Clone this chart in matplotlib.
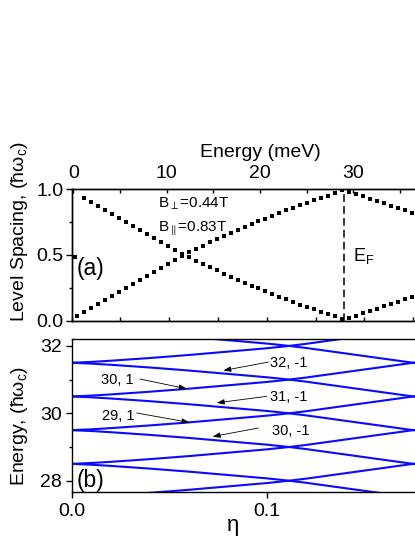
import numpy as np
import matplotlib
matplotlib.use("Agg")
import matplotlib.pyplot as plt
from matplotlib.ticker import MultipleLocator

plt.rcParams['font.family'] = ['Liberation Sans', 'DejaVu Sans']
plt.rcParams['mathtext.fontset'] = 'custom'
plt.rcParams['mathtext.rm'] = 'Liberation Sans'
plt.rcParams['mathtext.it'] = 'Liberation Sans:italic'
plt.rcParams['mathtext.bf'] = 'Liberation Sans:bold'

# ---- painel (a): espacamento entre niveis vs energia (pontos) ----
energia = [0.42, 1.17, 1.91, 2.66, 3.41, 4.16, 4.90, 5.65, 6.40, 7.14,
           7.89, 8.64, 9.38, 10.13, 10.88, 11.63, 12.37, 13.12, 13.87, 14.61,
           15.36, 16.11, 16.85, 17.60, 18.35, 19.10, 19.84, 20.59, 21.34, 22.08,
           22.83, 23.58, 24.32, 25.07, 25.82, 26.57, 27.31, 28.06, 28.81, 29.55,
           30.30, 31.05, 31.79, 32.54, 33.29, 34.04, 34.78, 35.53, 36.28]
ramo_sobe = [0.035, 0.066, 0.096, 0.127, 0.157, 0.188, 0.218, 0.249, 0.279, 0.310,
             0.340, 0.371, 0.401, 0.432, 0.462, 0.492, 0.518, 0.544, 0.569, 0.594,
             0.618, 0.642, 0.665, 0.688, 0.711, 0.733, 0.755, 0.776, 0.797, 0.818,
             0.838, 0.858, 0.877, 0.896, 0.914, 0.932, 0.949, 0.966, 0.990, 0.980,
             0.963, 0.945, 0.927, 0.909, 0.891, 0.873, 0.855, 0.837, 0.820]
ramo_desce = [0.934, 0.904, 0.873, 0.843, 0.812, 0.782, 0.751, 0.721, 0.690, 0.660,
              0.629, 0.599, 0.568, 0.538, 0.508, 0.482, 0.456, 0.431, 0.406, 0.382,
              0.358, 0.335, 0.312, 0.289, 0.267, 0.245, 0.224, 0.203, 0.182, 0.162,
              0.142, 0.123, 0.104, 0.086, 0.068, 0.051, 0.034, 0.012, 0.022, 0.038,
              0.055, 0.073, 0.091, 0.109, 0.127, 0.145, 0.163, 0.180]
ponto_extra_E = [0.2]
ponto_extra_v = [0.48]
E_fermi = 29.05

# ---- painel (b): niveis vs eta ----
eta = [0.00, 0.01, 0.02, 0.03, 0.04, 0.05, 0.06, 0.07, 0.08, 0.09,
       0.10, 0.11, 0.12, 0.13, 0.14, 0.15, 0.16, 0.17, 0.18, 0.19]
desvio = [0.0, 0.025, 0.06, 0.10, 0.14, 0.185, 0.23, 0.28, 0.33, 0.38,
          0.43, 0.49, 0.56, 0.64, 0.72, 0.80, 0.88, 0.96, 1.04, 1.12]
centros = [27.5, 28.5, 29.5, 30.5, 31.5, 32.5]

# rotulos: texto, posicao do texto, cauda e ponta da seta (coords de dados)
rotulos = [
    ("30, 1",  (0.0150, 30.996), (0.0351, 31.016), (0.0590, 30.73)),
    ("29, 1",  (0.0158, 29.910), (0.0334, 30.009), (0.0604, 29.73)),
    ("32, -1", (0.1017, 31.490), (0.1008, 31.520), (0.0778, 31.27)),
    ("31, -1", (0.1017, 30.474), (0.1000, 30.504), (0.0744, 30.31)),
    ("30, -1", (0.1026, 29.467), (0.0957, 29.564), (0.0723, 29.31)),
]

W, H = 415, 537
fig = plt.figure(figsize=(W / 100, H / 100), dpi=100)

def px(x, y):
    return x / W, 1 - y / H

esq, dir_ = 71.5, 440.0
ax_a = fig.add_axes([esq / W, 1 - 320.7 / H, (dir_ - esq) / W, (320.7 - 189) / H])
ax_b = fig.add_axes([esq / W, 1 - 491.7 / H, (dir_ - esq) / W, (491.7 - 339.3) / H])

eta_max = (dir_ - esq) / 1952
E_min = (esq - 73.3) / 9.33
E_max = (dir_ - 73.3) / 9.33

fs = 14
# painel (a)
ax_a.plot(energia, ramo_sobe, 's', color='black', ms=2.3, mew=0)
ax_a.plot(energia[1:], ramo_desce, 's', color='black', ms=2.3, mew=0)
ax_a.plot(ponto_extra_E, ponto_extra_v, 's', color='black', ms=2.3, mew=0, clip_on=False)
ax_a.plot([E_fermi, E_fermi], [0, 1], color='black', lw=1.1, dashes=(5, 2.8))
ax_a.set_xlim(E_min, E_max)
ax_a.set_ylim(0, 1.0)

# eixo de eta (so marcas) na base do painel (a)
ax_a2 = ax_a.twiny()
ax_a2.set_xlim(0, eta_max)
ax_a2.xaxis.set_ticks_position('bottom')
ax_a2.xaxis.set_major_locator(MultipleLocator(0.025))
ax_a2.tick_params(axis='x', direction='in', length=3, width=1, labelbottom=False,
                  labeltop=False)

ax_a.xaxis.tick_top()
ax_a.xaxis.set_major_locator(MultipleLocator(10))
ax_a.xaxis.set_minor_locator(MultipleLocator(5))
ax_a.set_yticks([0, 0.5, 1.0])
ax_a.set_yticklabels(['0.0', '0.5', '1.0'])
ax_a.yaxis.set_minor_locator(MultipleLocator(0.25))
ax_a.tick_params(axis='x', which='both', direction='in', length=3, width=1,
                 labelsize=fs, pad=5, top=True, bottom=False,
                 labeltop=True, labelbottom=False)
ax_a.tick_params(axis='y', which='major', direction='out', length=4, width=1,
                 labelsize=fs, pad=2)
ax_a.tick_params(axis='y', which='minor', direction='out', length=2.5, width=1)

for a in (ax_a, ax_a2):
    for s in a.spines.values():
        s.set_linewidth(1.0)

fig.text(*px(260, 152.5), 'Energy (meV)', fontsize=fs, ha='center', va='center')
fig.text(*px(20, 232), 'Level Spacing, (ħω$_\\mathrm{c}$)', fontsize=fs,
         rotation=90, ha='center', va='center')
fig.text(*px(77, 269), '(a)', fontsize=16.5, ha='left', va='center')
fig.text(*px(158, 207.3), 'B$_{\\perp}$=0.44T', fontsize=11, ha='left', va='baseline')
fig.text(*px(158, 231.7), 'B$_{\\parallel}$=0.83T', fontsize=11, ha='left', va='baseline')
fig.text(*px(352.5, 260.7), 'E$_\\mathrm{F}$', fontsize=13, ha='left', va='baseline')

# painel (b)
eta_arr = np.array(eta)
desvio_arr = np.array(desvio)
for c in centros:
    ax_b.plot(eta_arr, c + desvio_arr, color='#0a0aff', lw=1.5)
    ax_b.plot(eta_arr, c - desvio_arr, color='#0a0aff', lw=1.5)
ax_b.set_xlim(0, eta_max)
ax_b.set_ylim(27.674, 32.196)
ax_b.set_xticks([0.0, 0.1])
ax_b.set_xticklabels(['0.0', '0.1'])
ax_b.yaxis.set_major_locator(MultipleLocator(2))
ax_b.yaxis.set_minor_locator(MultipleLocator(1))
ax_b.tick_params(axis='both', which='major', direction='out', length=4, width=1,
                 labelsize=fs)
ax_b.tick_params(axis='x', which='major', pad=4)
ax_b.tick_params(axis='y', which='major', pad=3)
ax_b.tick_params(axis='y', which='minor', direction='out', length=2, width=1)
for s in ax_b.spines.values():
    s.set_linewidth(1.0)

for txt, pos, cauda, ponta in rotulos:
    ax_b.text(pos[0], pos[1], txt, fontsize=10.5, ha='left', va='center')
    ax_b.annotate('', xy=ponta, xytext=cauda,
                  arrowprops=dict(arrowstyle='-|>,head_length=0.45,head_width=0.16',
                                  color='black', lw=0.6, shrinkA=0, shrinkB=0,
                                  mutation_scale=10))

fig.text(*px(20, 426), 'Energy, (ħω$_\\mathrm{c}$)', fontsize=fs,
         rotation=90, ha='center', va='center')
fig.text(*px(77, 481), '(b)', fontsize=16.5, ha='left', va='center')
fig.text(*px(233, 525), 'η', fontsize=16, ha='center', va='center')

fig.savefig('out.png', dpi=100)
